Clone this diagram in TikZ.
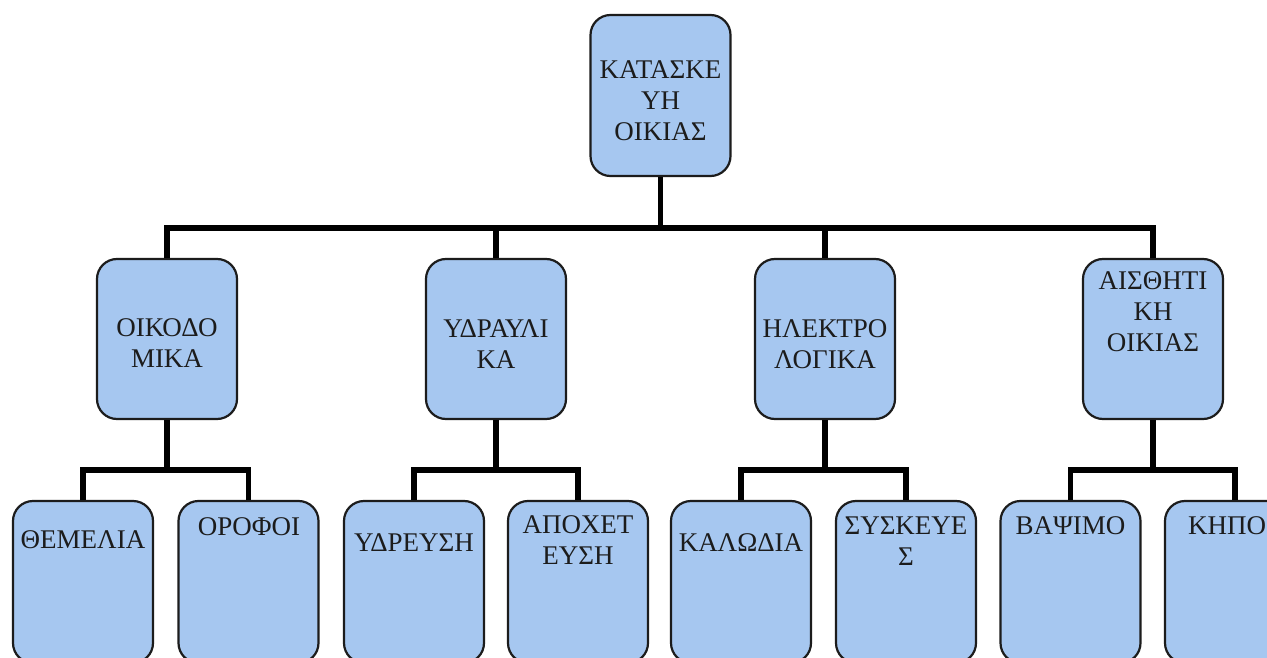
\documentclass[tikz,border=0pt]{standalone}
\usepackage{fontspec}
\setmainfont{Liberation Serif}
\definecolor{boxblue}{RGB}{166,199,240}
\definecolor{inkgray}{RGB}{28,28,28}
\begin{document}
\begin{tikzpicture}[x=1pt,y=-1pt,
  box/.style={draw=inkgray, line width=2.2pt, fill=boxblue, rounded corners=20pt,
    minimum width=140pt, inner sep=0pt},
  lbl/.style={font=\fontsize{27}{31}\selectfont, align=center, text=inkgray, inner sep=0pt},
  conn/.style={line width=5.5pt, line join=miter, draw=black}]
\useasboundingbox (0,0) rectangle (1267,658);
\clip (0,0) rectangle (1267,658);
\fill[white] (0,0) rectangle (1267,658);

% top
\node[box, minimum height=161pt] (top) at (660.5,95.5) {};
% level 2
\node[box, minimum height=160pt] (l1) at (167,339) {};
\node[box, minimum height=160pt] (l2) at (496,339) {};
\node[box, minimum height=160pt] (l3) at (825,339) {};
\node[box, minimum height=160pt] (l4) at (1153,339) {};
% level 3
\node[box, minimum height=162pt] (m1) at (83,582) {};
\node[box, minimum height=162pt] (m2) at (248.5,582) {};
\node[box, minimum height=162pt] (m3) at (414,582) {};
\node[box, minimum height=162pt] (m4) at (578,582) {};
\node[box, minimum height=162pt] (m5) at (741,582) {};
\node[box, minimum height=162pt] (m6) at (906,582) {};
\node[box, minimum height=162pt] (m7) at (1070.5,582) {};
\node[box, minimum height=162pt] (m8) at (1235,582) {};

% connectors
\draw[conn] (top.south) -- ++(0,51);
\draw[conn] (l1.north) -- ++(0,-30) -| (l4.north);
\draw[conn] (l2.north) -- ++(0,-30);
\draw[conn] (l3.north) -- ++(0,-30);

\draw[conn] (l1.south) -- ++(0,50);
\draw[conn] (m1.north) -- ++(0,-30) -| (m2.north);
\draw[conn] (l2.south) -- ++(0,50);
\draw[conn] (m3.north) -- ++(0,-30) -| (m4.north);
\draw[conn] (l3.south) -- ++(0,50);
\draw[conn] (m5.north) -- ++(0,-30) -| (m6.north);
\draw[conn] (l4.south) -- ++(0,50);
\draw[conn] (m7.north) -- ++(0,-30) -| (m8.north);

% labels
\node[lbl] (t0) at (660.5,101) {ΚΑΤΑΣΚΕ\\ΥΗ\\ΟΙΚΙΑΣ};
\node[lbl] (t1) at (167,343) {ΟΙΚΟΔΟ\\ΜΙΚΑ};
\node[lbl] (t2) at (496,344) {ΥΔΡΑΥΛΙ\\ΚΑ};
\node[lbl] (t3) at (825,344) {ΗΛΕΚΤΡΟ\\ΛΟΓΙΚΑ};
\node[lbl] (t4) at (1153,312) {ΑΙΣΘΗΤΙ\\ΚΗ\\ΟΙΚΙΑΣ};

\node[lbl] (u1) at (83,540) {ΘΕΜΕΛΙΑ};
\node[lbl] (u2) at (249,527) {ΟΡΟΦΟΙ};
\node[lbl] (u3) at (414,543) {ΥΔΡΕΥΣΗ};
\node[lbl] (u4) at (578,540) {ΑΠΟΧΕΤ\\ΕΥΣΗ};
\node[lbl] (u5) at (741,543) {ΚΑΛΩΔΙΑ};
\node[lbl] (u6) at (906,541) {ΣΥΣΚΕΥΕ\\Σ};
\node[lbl] (u7) at (1070.5,526) {ΒΑΨΙΜΟ};
\node[lbl] (u8) at (1235,526) {ΚΗΠΟΣ};
\end{tikzpicture}
\end{document}
